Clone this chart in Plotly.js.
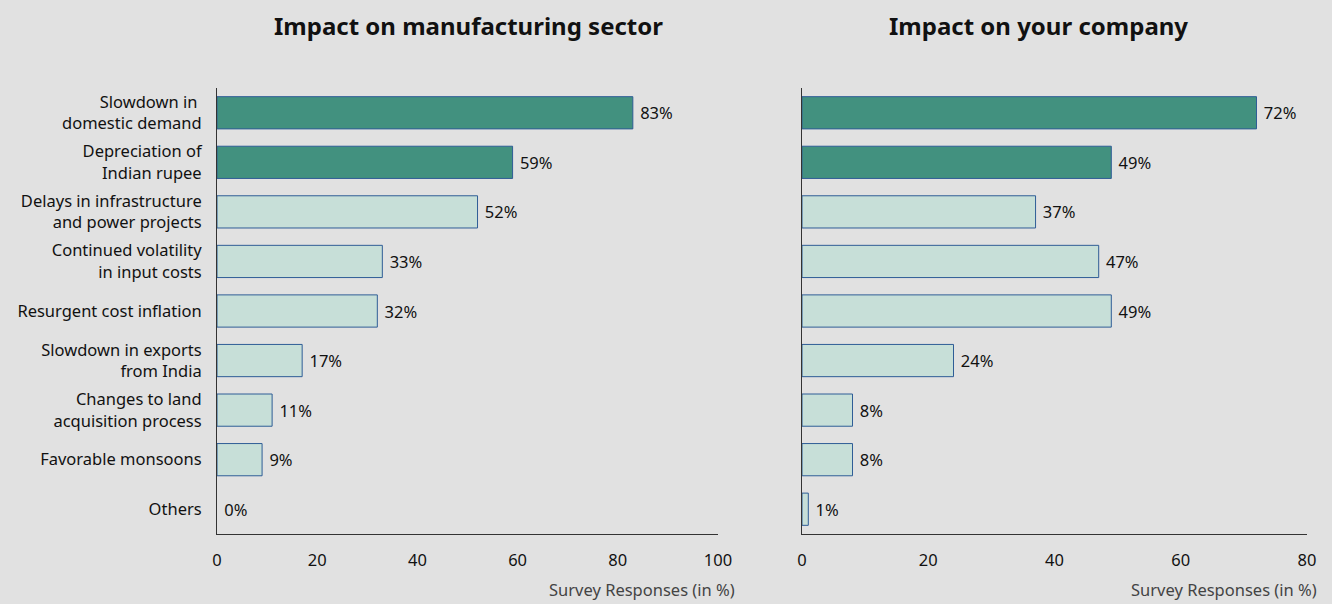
<!DOCTYPE html>
<html><head><meta charset="utf-8">
<script src="https://cdn.plot.ly/plotly-3.0.1.min.js"></script>
<style>html,body{margin:0;padding:0;background:#e1e1e1;}</style>
</head><body>
<div id="chart" style="width:1332px;height:604px;"></div>
<script>
var categories = ["Slowdown in <br>domestic demand","Depreciation of<br>Indian rupee","Delays in infrastructure<br>and power projects","Continued volatility<br>in input costs","Resurgent cost inflation","Slowdown in exports<br>from India","Changes to land<br>acquisition process","Favorable monsoons","Others"];
var sectorValues = [83, 59, 52, 33, 32, 17, 11, 9, 0];
var companyValues = [72, 49, 37, 47, 49, 24, 8, 8, 1];
var highlighted = [true, true, false, false, false, false, false, false, false];
var titles = ["Impact on manufacturing sector", "Impact on your company"];
var axisTitle = "Survey Responses (in %)";

var dark = "#42917f", light = "#c7dfd8", edge = "#2f5d96";
var font = "Noto Sans, Open Sans, sans-serif";
function colors(){ return highlighted.map(function(h){return h?dark:light;}); }
function mk(vals, xa, ya){
  return {type:"bar", orientation:"h", x:vals, y:categories, xaxis:xa, yaxis:ya,
    width:0.65,
    marker:{color:colors(), line:{color:edge, width:vals.map(function(v){return v>0?1:0;})}},
    text:vals.map(function(v){return "\u00a0" + v + "%";}), textposition:"outside",
    textfont:{family:font, size:16.5, color:"#111"}, cliponaxis:false,
    hoverinfo:"x+y"};
}
var data = [mk(sectorValues,"x","y"), mk(companyValues,"x2","y2")];
var yd = [1-534/604, 1-88/604];
var xbase = {showgrid:false, zeroline:false, showline:true, linecolor:"#333", linewidth:1,
  ticks:"", tickfont:{family:font, size:16.5, color:"#111"}, ticklabelstandoff:11, automargin:false, fixedrange:true};
var ybase = {type:"category", autorange:"reversed", showgrid:false, zeroline:false, showline:true,
  linecolor:"#333", linewidth:1, ticks:"", automargin:false, fixedrange:true,
  tickfont:{family:font, size:16.5, color:"#111"}, ticklabelstandoff:11};
var layout = {
  width:1332, height:604, margin:{l:0,r:0,t:0,b:0},
  paper_bgcolor:"#e1e1e1", plot_bgcolor:"#e1e1e1", showlegend:false, bargap:0.35,
  xaxis:Object.assign({}, xbase, {domain:[217/1332, 718/1332], range:[0,100], tickvals:[0,20,40,60,80,100], anchor:"y"}),
  yaxis:Object.assign({}, ybase, {domain:yd, anchor:"x"}),
  xaxis2:Object.assign({}, xbase, {domain:[802/1332, 1307/1332], range:[0,80], tickvals:[0,20,40,60,80], anchor:"y2"}),
  yaxis2:Object.assign({}, ybase, {domain:yd, anchor:"x2", showticklabels:false}),
  annotations:[
    {text:"<b>"+titles[0]+"</b>", xref:"paper", yref:"paper", x:468/1332, y:1-25/604, showarrow:false, xanchor:"center", yanchor:"middle", font:{family:font, size:24, color:"#111"}},
    {text:"<b>"+titles[1]+"</b>", xref:"paper", yref:"paper", x:1038/1332, y:1-25/604, showarrow:false, xanchor:"center", yanchor:"middle", font:{family:font, size:24, color:"#111"}},
    {text:axisTitle, xref:"paper", yref:"paper", x:737/1332, y:1/604, showarrow:false, xanchor:"right", yanchor:"bottom", font:{family:font, size:16.5, color:"#444"}},
    {text:axisTitle, xref:"paper", yref:"paper", x:1319/1332, y:1/604, showarrow:false, xanchor:"right", yanchor:"bottom", font:{family:font, size:16.5, color:"#444"}}
  ]
};
Plotly.newPlot("chart", data, layout, {displayModeBar:false, responsive:false});
</script>
</body></html>
